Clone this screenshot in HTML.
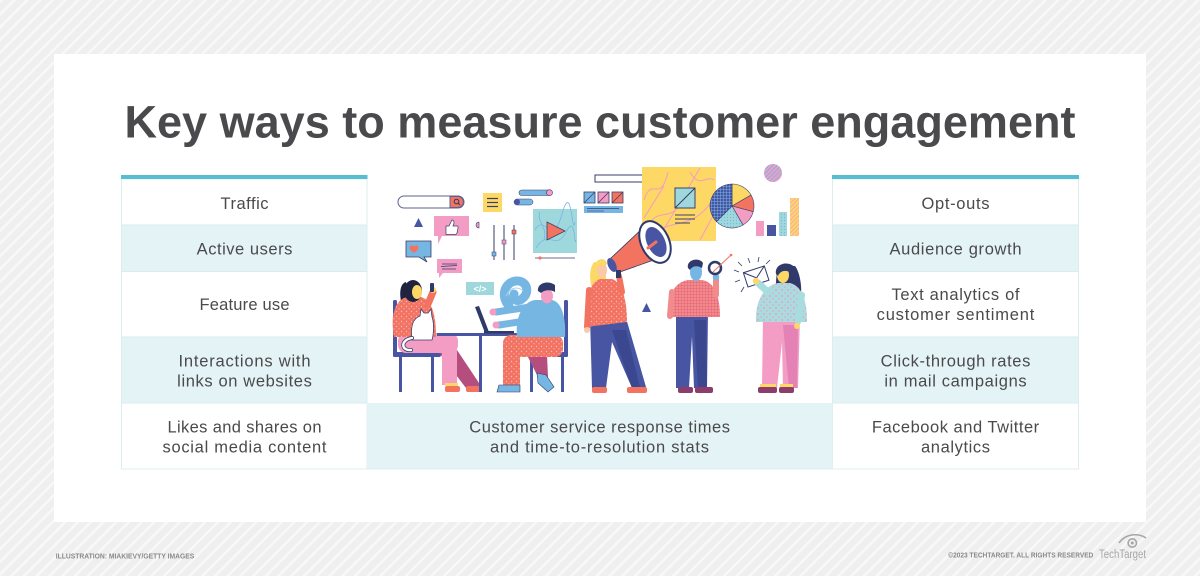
<!DOCTYPE html>
<html><head><meta charset="utf-8"><style>
html,body{margin:0;padding:0;width:1200px;height:576px;overflow:hidden;background:#f0f0f0}
svg{display:block}
</style></head><body>
<svg width="1200" height="576" viewBox="0 0 1200 576" xmlns="http://www.w3.org/2000/svg" font-family="'Liberation Sans', Arial, sans-serif">
<defs>
<pattern id="st" width="9" height="9" patternUnits="userSpaceOnUse" patternTransform="rotate(45)">
<rect width="9" height="9" fill="#efefef"/><rect width="2.6" height="9" fill="#f8f8f8"/>
</pattern>
<pattern id="cdots" width="5" height="5" patternUnits="userSpaceOnUse">
<rect width="5" height="5" fill="#f2735f"/><circle cx="1.5" cy="1.5" r=".7" fill="#f9b8c8"/><circle cx="4" cy="3.8" r=".6" fill="#f9b8c8"/>
</pattern>
<pattern id="tdots" width="6" height="6" patternUnits="userSpaceOnUse">
<rect width="6" height="6" fill="#a8dde0"/><circle cx="2" cy="2" r="1" fill="#f39cc4"/><circle cx="5" cy="5" r=".8" fill="#f39cc4"/>
</pattern>
<pattern id="grid" width="3" height="3" patternUnits="userSpaceOnUse">
<rect width="3" height="3" fill="#f28b8b"/><path d="M0 .5H3M.5 0V3" stroke="#e4607a" stroke-width=".5"/>
</pattern>
<pattern id="bgrid" width="3" height="3" patternUnits="userSpaceOnUse">
<rect width="3" height="3" fill="#4755a3"/><path d="M0 .5H3M.5 0V3" stroke="#76b6e2" stroke-width=".5"/>
</pattern>
<pattern id="pstr" width="3" height="3" patternUnits="userSpaceOnUse" patternTransform="rotate(45)">
<rect width="3" height="3" fill="#f39cc4"/><rect width="1" height="3" fill="#76b6e2"/>
</pattern>
<pattern id="ystr" width="3" height="3" patternUnits="userSpaceOnUse" patternTransform="rotate(45)">
<rect width="3" height="3" fill="#fdd865"/><rect width=".8" height="3" fill="#f39cc4"/>
</pattern>
<pattern id="lbdots" width="3" height="3" patternUnits="userSpaceOnUse">
<rect width="3" height="3" fill="#9fd8dc"/><circle cx="1.5" cy="1.5" r=".6" fill="#76b6e2"/>
</pattern>
</defs>

<!-- background -->
<rect width="1200" height="576" fill="url(#st)"/>
<rect x="54" y="54" width="1092" height="468" fill="#ffffff"/>

<!-- title -->
<text x="600" y="137.5" text-anchor="middle" font-size="45" font-weight="bold" fill="#4a4a4d" textLength="951" lengthAdjust="spacingAndGlyphs">Key ways to measure customer engagement</text>

<!-- left table -->
<rect x="121.5" y="179" width="245.5" height="290" fill="#fff" stroke="#dcedf0" stroke-width="1"/>
<rect x="122" y="225" width="244.5" height="46.5" fill="#e4f3f5"/>
<rect x="122" y="337" width="244.5" height="66" fill="#e4f3f5"/>
<g stroke="#d9ecef" stroke-width="1">
<line x1="121.5" y1="225" x2="367" y2="225"/><line x1="121.5" y1="271.5" x2="367" y2="271.5"/>
<line x1="121.5" y1="337" x2="367" y2="337"/><line x1="121.5" y1="403" x2="367" y2="403"/>
</g>
<rect x="121" y="175" width="246.5" height="4" fill="#56bdd3"/>

<!-- right table -->
<rect x="832.5" y="179" width="246" height="290" fill="#fff" stroke="#dcedf0" stroke-width="1"/>
<rect x="833" y="225" width="245" height="46.5" fill="#e4f3f5"/>
<rect x="833" y="337" width="245" height="66" fill="#e4f3f5"/>
<g stroke="#d9ecef" stroke-width="1">
<line x1="832.5" y1="225" x2="1078.5" y2="225"/><line x1="832.5" y1="271.5" x2="1078.5" y2="271.5"/>
<line x1="832.5" y1="337" x2="1078.5" y2="337"/><line x1="832.5" y1="403" x2="1078.5" y2="403"/>
</g>
<rect x="832" y="175" width="247" height="4" fill="#56bdd3"/>

<!-- center bottom row -->
<rect x="367" y="403" width="465.5" height="66" fill="#e4f3f5"/>
<line x1="367" y1="469" x2="832.5" y2="469" stroke="#dcedf0"/>

<!-- table text -->
<g font-size="16.5" fill="#4a4a4d" text-anchor="middle" lengthAdjust="spacing">
<text x="244.5" y="209" textLength="48">Traffic</text>
<text x="244.5" y="254.3" textLength="95.7">Active users</text>
<text x="244.5" y="310" textLength="90">Feature use</text>
<text x="244.5" y="366.7" textLength="132">Interactions with</text>
<text x="244.5" y="386.7" textLength="134.7">links on websites</text>
<text x="244.5" y="432.7" textLength="154">Likes and shares on</text>
<text x="244.5" y="452.7" textLength="164">social media content</text>

<text x="955.5" y="209" textLength="68">Opt-outs</text>
<text x="955.5" y="254.3" textLength="132">Audience growth</text>
<text x="955.5" y="300" textLength="128">Text analytics of</text>
<text x="955.5" y="320" textLength="157.7">customer sentiment</text>
<text x="955.5" y="366.7" textLength="149.7">Click-through rates</text>
<text x="955.5" y="386.7" textLength="142.3">in mail campaigns</text>
<text x="955.5" y="432.7" textLength="167.3">Facebook and Twitter</text>
<text x="955.5" y="452.7" textLength="69">analytics</text>

<text x="599.6" y="432.7" textLength="260.7">Customer service response times</text>
<text x="599.5" y="452.7" textLength="219">and time-to-resolution stats</text>
</g>

<!-- ========== ILLUSTRATION ========== -->
<rect x="398" y="196" width="66" height="12" rx="6" fill="#fff" stroke="#5a6190" stroke-width="1"/>
<path d="M450 196.5 h8 a5.5 5.5 0 0 1 0 11 h-8z" fill="#f2735f" stroke="#5a6190" stroke-width="1"/>
<circle cx="456.5" cy="201.5" r="2.3" fill="none" stroke="#2f3a6b" stroke-width="1"/>
<line x1="458.2" y1="203.2" x2="460" y2="205" stroke="#2f3a6b" stroke-width="1"/>

<rect x="483" y="193" width="19" height="19" fill="#fdd865"/>
<g stroke="#3a3f6a" stroke-width="1.2"><line x1="487" y1="198.5" x2="498" y2="198.5"/><line x1="487" y1="202.5" x2="498" y2="202.5"/><line x1="487" y1="206.5" x2="498" y2="206.5"/></g>

<rect x="519" y="190" width="33" height="5.5" rx="2.75" fill="#76b6e2" stroke="#3a3f6a" stroke-width=".6"/>
<circle cx="549.5" cy="192.7" r="3" fill="#f39cc4" stroke="#3a3f6a" stroke-width=".6"/>
<rect x="514" y="199" width="19" height="6" rx="3" fill="#76b6e2" stroke="#3a3f6a" stroke-width=".5"/>
<circle cx="517" cy="202" r="3" fill="#4755a3"/>

<polygon points="418.5,218 423,227 414,227" fill="#4755a3"/>

<path d="M434 216 h35 v20 h-27 l-4 8 v-8 h-4z" fill="#f39cc4"/>
<path d="M446 226 h3 l3-6 q2 0 2 3 l-1 3 h4 q1.5 0 1 2 l-1 5 q-.5 1.5-2 1.5 h-9z" fill="#fff" stroke="#3a3f6a" stroke-width=".7"/>
<path d="M479 222 a3 3 0 0 0 0 6z" fill="#f39cc4" stroke="#3a3f6a" stroke-width=".6"/>

<g stroke="#3a3f6a" stroke-width="1"><line x1="494" y1="225" x2="494" y2="260"/><line x1="504" y1="225" x2="504" y2="260"/><line x1="514" y1="225" x2="514" y2="260"/></g>
<rect x="492" y="252" width="4" height="4" fill="#76b6e2" stroke="#3a3f6a" stroke-width=".5"/>
<rect x="502" y="240" width="4" height="4" fill="#f39cc4" stroke="#3a3f6a" stroke-width=".5"/>
<rect x="512" y="230" width="4" height="4" fill="#f2735f" stroke="#3a3f6a" stroke-width=".5"/>

<rect x="533" y="209" width="44" height="44" fill="#9fd8dc"/>
<g fill="none" stroke="#76b6e2" stroke-width=".8">
<path d="M535 230 C545 212 552 250 562 214 S572 240 575 222"/>
<path d="M536 248 C548 228 556 252 566 232 S574 250 576 240"/>
<path d="M540 212 C536 222 548 226 544 240"/>
</g>
<polygon points="547,222 565,231 547,240" fill="#f2735f" stroke="#3a3f6a" stroke-width=".8"/>
<line x1="535" y1="258" x2="575" y2="258" stroke="#3a3f6a" stroke-width=".8"/>
<circle cx="540" cy="258" r="1.6" fill="#f2735f"/>

<path d="M406 241 h25 v16 h-7 l3 5 l-8 -5 h-13z" fill="#76b6e2" stroke="#3a3f6a" stroke-width=".8"/>
<path d="M414 247 c-1-2.5-4.5-2-4.5 .8 c0 2 2.5 3.5 4.5 5.2 c2-1.7 4.5-3.2 4.5-5.2 c0-2.8-3.5-3.3-4.5-.8z" fill="#f2735f"/>

<path d="M437 259 h25 v14 h-19 l-4 5 v-5 h-2z" fill="#f39cc4"/>
<path d="M442 264 h15 M441 266.5 l16 -1 M442 269 h14" stroke="#3a3f6a" stroke-width=".8" fill="none"/>

<rect x="466" y="282" width="28" height="13" fill="#9fd8dc"/>
<text x="480" y="292" text-anchor="middle" font-size="9" fill="#ffffff" font-weight="bold">&lt;/&gt;</text>

<path d="M509 306 C500 296 505 282 516 281 C527 280 530 292 523 298 C518 303 512 300 514 294" stroke="#76b6e2" stroke-width="9" fill="none" stroke-linecap="round"/>
<path d="M506 296 C510 288 516 286 522 290" stroke="#a9d3ee" stroke-width="1" fill="none"/>

<g fill="#4755a3">
<rect x="393" y="300" width="4" height="57" rx="1.5"/>
<rect x="393" y="352" width="48" height="5" rx="2"/>
<rect x="399" y="357" width="3" height="35"/>
<rect x="431" y="357" width="3" height="35"/>
</g>
<polygon points="437,350 457,350 481,386 466,388" fill="#b54d7e"/>
<rect x="398" y="333" width="60" height="20" rx="8" fill="#f39cc4"/>
<rect x="442" y="345" width="15" height="40" fill="#f39cc4"/>
<rect x="445" y="383" width="13" height="3" fill="#fdd865"/>
<rect x="445" y="386" width="15" height="6" rx="2" fill="#f2735f"/>
<rect x="466" y="386" width="16" height="6" rx="2" fill="#f2735f"/>
<path d="M406 282 C398 284 400 300 402 304 L412 304 Z" fill="#1f2340"/>
<path d="M394 337 C390 315 395 300 407 297 L421 297 C432 300 436 315 436 337 Z" fill="url(#cdots)"/>
<path d="M428 304 L433 292" stroke="#f2735f" stroke-width="7" stroke-linecap="round"/>
<circle cx="433" cy="290" r="3" fill="#fdd865"/>
<rect x="430" y="283" width="4" height="9" rx="1" fill="#2f3a6b"/>
<ellipse cx="413" cy="291" rx="9" ry="11" fill="#1f2340"/>
<ellipse cx="417" cy="292" rx="5" ry="7" fill="#fdd865"/>
<path d="M412 340 C410 325 414 318 420 316 L421 309 L424 313 L428 313 L431 309 L432 317 C434 322 434 333 432 340 Z" fill="#fff" stroke="#3a3f6a" stroke-width=".8"/>
<path d="M412 338 C400 340 401 351 411 350" stroke="#3a3f6a" stroke-width="4" fill="none" stroke-linecap="round"/>
<path d="M412 338 C400 340 401 351 411 350" stroke="#fff" stroke-width="2.4" fill="none" stroke-linecap="round"/>

<rect x="437" y="333" width="87" height="3" fill="#4755a3"/>
<rect x="479" y="336" width="3" height="56" fill="#4755a3"/>
<polygon points="475,307 479,306 489,332 485,333" fill="#2f3a6b"/>
<rect x="484" y="331" width="30" height="2.5" fill="#2f3a6b"/>

<g fill="#4755a3">
<rect x="564" y="300" width="4" height="57" rx="1.5"/>
<rect x="528" y="352" width="40" height="5" rx="2"/>
<rect x="530" y="357" width="3" height="35"/>
<rect x="561" y="357" width="3" height="35"/>
</g>
<polygon points="527,355 547,355 548,377 540,381" fill="#b54d7e"/>
<rect x="503" y="335" width="60" height="22" rx="8" fill="url(#cdots)"/>
<rect x="503" y="345" width="17" height="41" fill="url(#cdots)"/>
<path d="M497 392 L499 385 L520 385 L520 392 Z" fill="#76b6e2" stroke="#2f3a6b" stroke-width=".6"/>
<polygon points="537,373 546,375 554,387 548,392 538,383" fill="#76b6e2" stroke="#2f3a6b" stroke-width=".6"/>
<path d="M517 337 C515 318 522 302 535 300 L552 300 C562 302 566 318 565 337 Z" fill="#76b6e2"/>
<path d="M530 307 L496 312" stroke="#76b6e2" stroke-width="7" stroke-linecap="round"/>
<path d="M532 320 L499 325" stroke="#76b6e2" stroke-width="7" stroke-linecap="round"/>
<circle cx="493" cy="312" r="3.5" fill="#f39cc4"/>
<circle cx="496" cy="325" r="3.5" fill="#f39cc4"/>
<ellipse cx="547" cy="296" rx="6" ry="7.5" fill="#f39cc4"/>
<path d="M538 291 C537 283 548 280 555 285 L555 292 C550 289 544 290 541 293 Z" fill="#2f3a6b"/>

<rect x="595" y="175" width="100" height="7" fill="#fff" stroke="#3a3f6a" stroke-width="1"/>
<rect x="671" y="176.5" width="3" height="3" fill="#f39cc4"/><rect x="675.5" y="176.5" width="3" height="3" fill="#4755a3"/><rect x="680" y="176.5" width="3" height="3" fill="#76b6e2"/><rect x="684.5" y="176.5" width="3" height="3" fill="#f2735f"/><rect x="689" y="176.5" width="3" height="3" fill="#f39cc4"/>
<g stroke="#3a3f6a" stroke-width=".8">
<rect x="584" y="192" width="11" height="11" fill="#76b6e2"/><line x1="584" y1="203" x2="595" y2="192"/>
<rect x="598" y="192" width="11" height="11" fill="#f39cc4"/><line x1="598" y1="203" x2="609" y2="192"/>
<rect x="612" y="192" width="11" height="11" fill="#f2735f"/><line x1="612" y1="203" x2="623" y2="192"/>
</g>
<rect x="584" y="206" width="39" height="7" fill="#76b6e2"/>
<line x1="587" y1="208.5" x2="619" y2="208.5" stroke="#3a3f6a" stroke-width=".8"/>
<line x1="587" y1="211" x2="604" y2="211" stroke="#4755a3" stroke-width=".8"/>

<rect x="642" y="167" width="74" height="74" fill="#fdd865"/>
<g fill="none" stroke="#f39cc4" stroke-width="1">
<path d="M644 200 C652 175 660 205 668 172"/><path d="M646 230 C660 200 668 232 690 190"/>
<path d="M650 240 C666 214 690 236 714 198"/><path d="M690 172 C700 190 706 174 714 180"/>
<path d="M660 236 L700 168"/><path d="M700 240 L714 214"/><path d="M644 218 L664 186"/>
</g>
<rect x="675" y="188" width="20" height="20" fill="#9fd8dc" stroke="#3a3f6a" stroke-width="1"/>
<line x1="675" y1="208" x2="695" y2="188" stroke="#3a3f6a" stroke-width="1"/>
<g stroke="#3a3f6a" stroke-width="1"><line x1="675" y1="215" x2="695" y2="215"/><line x1="675" y1="219" x2="695" y2="219"/><line x1="675" y1="223" x2="690" y2="223"/></g>

<g stroke="#3a3f6a" stroke-width=".6">
<path d="M732 206 L732 184 A22 22 0 0 1 751.05 195 Z" fill="#fdd865"/>
<path d="M732 206 L751.05 195 A22 22 0 0 1 753.25 211.69 Z" fill="#f2735f"/>
<path d="M732 206 L753.25 211.69 A22 22 0 0 1 743 225.05 Z" fill="#f39cc4"/>
<path d="M732 206 L743 225.05 A22 22 0 0 1 716.44 221.56 Z" fill="url(#lbdots)"/>
<path d="M732 206 L716.44 221.56 A22 22 0 0 1 732 184 Z" fill="url(#bgrid)"/>
</g>
<circle cx="773" cy="173" r="9" fill="url(#pstr)"/>
<rect x="756" y="221" width="8" height="15" fill="#f39cc4"/>
<rect x="767" y="225" width="9" height="11" fill="#4755a3"/>
<rect x="779" y="212" width="8" height="24" fill="url(#lbdots)"/>
<rect x="790" y="198" width="9" height="38" fill="url(#ystr)"/>

<polygon points="590,318 626,318 646,387 632,388 612,342 606,388 592,388" fill="#4755a3"/>
<polygon points="612,330 626,330 640,387 632,388" fill="#3b4890"/>
<rect x="592" y="387" width="15" height="6" rx="2" fill="#f2735f"/>
<rect x="627" y="387" width="20" height="6" rx="2" fill="#f2735f"/>
<path d="M594 262 C588 270 590 285 593 290 L606 284 L606 264 Z" fill="#fdd865"/>
<path d="M586 327 C584 300 590 282 600 279 L612 279 C622 282 627 300 627 322 Z" fill="url(#cdots)"/>
<path d="M589 290 L587 327" stroke="#f2735f" stroke-width="6" stroke-linecap="round"/>
<circle cx="587" cy="330" r="3" fill="#f9c9a8"/>
<path d="M622 292 L619 276" stroke="#f2735f" stroke-width="6" stroke-linecap="round"/>
<ellipse cx="602" cy="270" rx="5" ry="7.5" fill="#f9c9a8"/>
<path d="M595 268 C594 258 606 256 607 264 Z" fill="#fdd865"/>

<polygon points="611,258 644,227 665,256 617,273" fill="#f2735f" stroke="#2f3a6b" stroke-width=".8"/>
<ellipse cx="612" cy="265" rx="4" ry="7.5" transform="rotate(-25 612 265)" fill="#4755a3"/>
<rect x="616" y="270" width="5" height="8" fill="#2f3a6b"/>
<ellipse cx="655" cy="242" rx="14" ry="22" transform="rotate(-25 655 242)" fill="#fff" stroke="#2f3a6b" stroke-width="2"/>
<ellipse cx="656" cy="242" rx="9" ry="16" transform="rotate(-25 656 242)" fill="#4755a3"/>
<path d="M648 248 l8 -6" stroke="#f2735f" stroke-width="3" stroke-linecap="round"/>

<polygon points="646.5,303 651,312 642,312" fill="#4755a3"/>

<polygon points="676,313 708,313 707,388 694,388 692,336 689,388 676,388" fill="#4755a3"/>
<polygon points="694,320 706,320 707,388 698,388" fill="#3b4890"/>
<rect x="678" y="387" width="15" height="6" rx="2" fill="#8c3d6b"/>
<rect x="695" y="387" width="18" height="6" rx="2" fill="#8c3d6b"/>
<path d="M668 317 C667 295 675 282 688 280 L702 280 C714 282 720 295 720 317 Z" fill="url(#grid)"/>
<path d="M672 292 L670 316" stroke="#f28b8b" stroke-width="6" stroke-linecap="round"/>
<path d="M716 295 L716 280" stroke="#f28b8b" stroke-width="6" stroke-linecap="round"/>
<circle cx="716" cy="277" r="3.3" fill="#76b6e2"/>
<ellipse cx="696" cy="272" rx="6" ry="9" fill="#76b6e2"/>
<path d="M688 268 C686 259 700 257 703 263 L702 268 C697 265 692 266 690 270 Z" fill="#2f3a6b"/>
<circle cx="715" cy="268" r="6" fill="#fff" stroke="#2f3a6b" stroke-width="2.5"/>
<line x1="713" y1="272" x2="731" y2="255" stroke="#f2735f" stroke-width="1"/>
<circle cx="731" cy="255" r="1.3" fill="#f2735f"/>

<g transform="rotate(-18 756 276)">
<rect x="745" y="269" width="22" height="15" fill="#fff" stroke="#2f3a6b" stroke-width="1"/>
<path d="M745 269 L756 278 L767 269" fill="none" stroke="#2f3a6b" stroke-width="1"/>
</g>
<g stroke="#2f3a6b" stroke-width=".8">
<line x1="739" y1="272" x2="734" y2="270"/><line x1="740" y1="280" x2="735" y2="282"/><line x1="744" y1="287" x2="741" y2="292"/>
<line x1="750" y1="263" x2="748" y2="258"/><line x1="758" y1="262" x2="759" y2="257"/><line x1="766" y1="264" x2="770" y2="260"/>
<line x1="742" y1="266" x2="738" y2="262"/>
</g>

<path d="M780 266 C774 275 776 292 778 300 L800 300 C803 290 800 272 795 266 Z" fill="#2f3a6b"/>
<polygon points="763,317 800,317 798,388 783,388 782,342 777,388 762,388" fill="#f39cc4"/>
<polygon points="783,325 798,325 797,388 789,388" fill="#e582b5"/>
<rect x="760" y="384" width="16" height="3" fill="#fdd865"/>
<rect x="780" y="384" width="13" height="3" fill="#fdd865"/>
<rect x="758" y="387" width="19" height="6" rx="2" fill="#8c3d6b"/>
<rect x="779" y="387" width="15" height="6" rx="2" fill="#8c3d6b"/>
<path d="M756 322 C755 300 765 285 778 283 L790 283 C802 286 807 300 807 322 Z" fill="url(#tdots)"/>
<path d="M768 292 L758 283" stroke="#a8dde0" stroke-width="7" stroke-linecap="round"/>
<circle cx="756" cy="281" r="3.2" fill="#fdd865"/>
<path d="M802 295 L798 322" stroke="#a8dde0" stroke-width="6" stroke-linecap="round"/>
<circle cx="797" cy="326" r="3" fill="#fdd865"/>
<ellipse cx="783" cy="275" rx="6" ry="8" fill="#fdd865"/>
<path d="M776 274 C774 263 790 260 795 268 L793 274 C788 270 781 269 778 276 Z" fill="#2f3a6b"/>

<!-- footer -->
<text x="55.7" y="558.5" font-size="7" font-weight="bold" fill="#8a8a8a" textLength="138.6" lengthAdjust="spacingAndGlyphs">ILLUSTRATION: MIAKIEVY/GETTY IMAGES</text>
<text x="948.3" y="557.5" font-size="7" font-weight="bold" fill="#8a8a8a" textLength="145" lengthAdjust="spacingAndGlyphs">©2023 TECHTARGET. ALL RIGHTS RESERVED</text>
<text x="1099" y="558" font-size="11.5" fill="#a6a6a6" textLength="47" lengthAdjust="spacingAndGlyphs">TechTarget</text>
<path d="M1119 543 C1126 533 1139 533 1146 538" fill="none" stroke="#a6a6a6" stroke-width="1.5"/>
<circle cx="1132.3" cy="543" r="4.2" fill="none" stroke="#a6a6a6" stroke-width="1.6"/>
<circle cx="1132.3" cy="543" r="1.5" fill="#a6a6a6"/>
</svg>
</body></html>
